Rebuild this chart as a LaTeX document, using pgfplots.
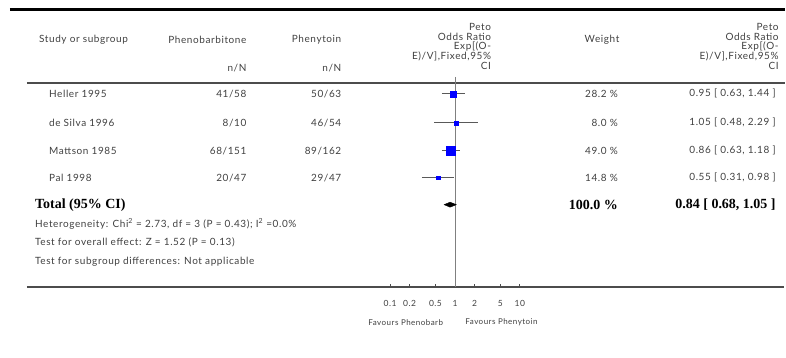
\documentclass[border=0pt]{standalone}
\usepackage{fontspec}
\setmainfont{Lato}[LetterSpace=6]
\newfontfamily\serifb{Liberation Serif}
\usepackage{pgfplots}
\pgfplotsset{compat=1.18}
\newcommand\bd{\fontsize{10}{11}\selectfont\color{black!75}}
\newcommand\tb{\serifb\bfseries\fontsize{14}{15}\selectfont\color{black}}
\begin{document}
\begin{tikzpicture}[x=1pt,y=-1pt]
\path (0,0) rectangle (786,358);
\draw[line width=2.5pt] (10,9.5) -- (786,9.5);
\draw[black!70, line width=1.3pt] (27,83) -- (786,83);
\draw[black!70, line width=1.3pt] (27,287.5) -- (785,287.5);
\begin{axis}[at={(390.7pt,-287.5pt)}, anchor=south west, scale only axis,
  width=130pt, height=210.5pt, xmode=log, xmin=0.1, xmax=10,
  ymin=-287.5, ymax=-77, clip=false,
  axis y line=none, axis x line*=bottom, x axis line style={draw=none},
  xtick={0.1,0.2,0.5,1,2,5,10}, xticklabels={0.1,0.2,0.5,1,2,5,10},
  xminorticks=false, tick align=inside, major tick length=3.5pt,
  tick style={black!70, line width=0.8pt},
  xticklabel style={font=\fontsize{8.5}{9}\selectfont, color=black!75, inner sep=0pt, anchor=north, yshift=-13pt}]
\addplot[black!50, line width=0.7pt] coordinates {(1,-77) (1,-287.5)};
% CIs
\addplot[black!65, line width=0.8pt] coordinates {(0.63,-94) (1.44,-94)};
\addplot[black!65, line width=0.8pt] coordinates {(0.48,-123) (2.29,-123)};
\addplot[black!65, line width=0.8pt] coordinates {(0.63,-151) (1.18,-151)};
\addplot[black!65, line width=0.8pt] coordinates {(0.31,-178) (0.98,-178)};
% boxes
\addplot[only marks, mark=square*, mark size=3pt, blue, mark options={draw=blue,fill=blue}] coordinates {(0.95,-94)};
\addplot[only marks, mark=square*, mark size=2pt, blue, mark options={draw=blue,fill=blue}] coordinates {(1.05,-123)};
\addplot[only marks, mark=square*, mark size=4.2pt, blue, mark options={draw=blue,fill=blue}] coordinates {(0.86,-151)};
\addplot[only marks, mark=square*, mark size=1.9pt, blue, mark options={draw=blue,fill=blue}] coordinates {(0.55,-178)};
% diamond
\addplot[fill=black, draw=black] coordinates {(0.68,-205) (0.84,-202.5) (1.05,-205) (0.84,-207.5)} -- cycle;
\end{axis}
% header
\begin{scope}[every node/.style={inner sep=0pt}]
\node[anchor=west] at (39,40) {\bd Study or subgroup};
\node[anchor=east] at (247,40) {\bd Phenobarbitone};
\node[anchor=east] at (342,40) {\bd Phenytoin};
\node[anchor=east] at (247,68) {\bd n/N};
\node[anchor=east] at (342,68) {\bd n/N};
\node at (603,40) {\bd Weight};
\foreach \xx in {492,780} {
\node[anchor=east] at (\xx,27) {\bd Peto};
\node[anchor=east] at (\xx,36.8) {\bd Odds Ratio};
\node[anchor=east] at (\xx,46.6) {\bd Exp[(O-};
\node[anchor=east] at (\xx,56.4) {\bd E)/V],Fixed,95\%};
\node[anchor=east] at (\xx,66.2) {\bd CI};
}
% rows
\node[anchor=west] at (49,94) {\bd Heller 1995};
\node[anchor=west] at (49,123) {\bd de Silva 1996};
\node[anchor=west] at (49,151) {\bd Mattson 1985};
\node[anchor=west] at (49,178) {\bd Pal 1998};
\node[anchor=east] at (247,94) {\bd 41/58};
\node[anchor=east] at (247,123) {\bd 8/10};
\node[anchor=east] at (247,151) {\bd 68/151};
\node[anchor=east] at (247,178) {\bd 20/47};
\node[anchor=east] at (342,94) {\bd 50/63};
\node[anchor=east] at (342,123) {\bd 46/54};
\node[anchor=east] at (342,151) {\bd 89/162};
\node[anchor=east] at (342,178) {\bd 29/47};
\node[anchor=east] at (619,94) {\bd 28.2 \%};
\node[anchor=east] at (619,123) {\bd 8.0 \%};
\node[anchor=east] at (619,151) {\bd 49.0 \%};
\node[anchor=east] at (619,178) {\bd 14.8 \%};
\node[anchor=east] at (777,94) {\bd 0.95 [ 0.63, 1.44 ]};
\node[anchor=east] at (777,123) {\bd 1.05 [ 0.48, 2.29 ]};
\node[anchor=east] at (777,151) {\bd 0.86 [ 0.63, 1.18 ]};
\node[anchor=east] at (777,178) {\bd 0.55 [ 0.31, 0.98 ]};
% total
\node[anchor=west] at (35,205) {\tb Total (95\% CI)};
\node[anchor=east] at (619,205) {\tb 100.0 \%};
\node[anchor=east] at (777,205) {\tb 0.84 [ 0.68, 1.05 ]};
\node[anchor=west] at (35,224) {\bd Heterogeneity: Chi\textsuperscript{2} = 2.73, df = 3 (P = 0.43); I\textsuperscript{2} =0.0\%};
\node[anchor=west] at (35,243) {\bd Test for overall effect: Z = 1.52 (P = 0.13)};
\node[anchor=west] at (35,262) {\bd Test for subgroup differences: Not applicable};
% favours
\node[anchor=east] at (444,323) {\fontsize{8}{9}\selectfont\color{black!75}Favours Phenobarb};
\node[anchor=west] at (466,323) {\fontsize{8}{9}\selectfont\color{black!75}Favours Phenytoin};
\end{scope}
\end{tikzpicture}
\end{document}
